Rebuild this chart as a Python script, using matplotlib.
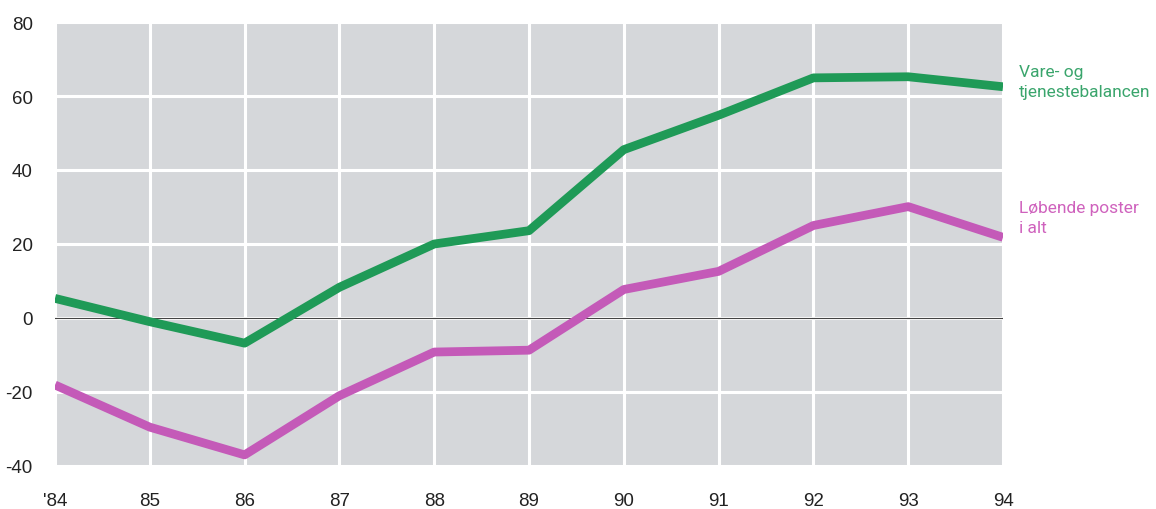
import matplotlib
matplotlib.use("Agg")
import matplotlib.pyplot as plt

plt.rcParams["axes.unicode_minus"] = False

# years on the x axis and the two balances (bn. kr.)
years = [84, 85, 86, 87, 88, 89, 90, 91, 92, 93, 94]
year_labels = ["'84", "85", "86", "87", "88", "89", "90", "91", "92", "93", "94"]
vare_tjeneste = [5.3, -1.0, -6.8, 8.3, 20.0, 23.6, 45.5, 54.8, 64.9, 65.2, 62.5]
lobende_poster = [-18.1, -29.5, -37.0, -21.0, -9.2, -8.7, 7.7, 12.6, 25.0, 30.1, 21.8]
y_ticks = [-40, -20, 0, 20, 40, 60, 80]

GREEN = "#1f9a57"
MAGENTA = "#c45ab8"

fig = plt.figure(figsize=(11.56, 5.10), dpi=100)
ax = fig.add_axes([55 / 1156, 1 - 467 / 510, (1003 - 55) / 1156, 444 / 510])
ax.set_facecolor("#d5d7da")

ax.set_xlim(84, 94)
ax.set_ylim(-40, 80)
ax.set_xticks(years)
ax.set_xticklabels(year_labels)
ax.set_yticks(y_ticks)
ax.grid(True, color="white", lw=2.2)
ax.set_axisbelow(True)
for sp in ax.spines.values():
    sp.set_visible(False)
ax.tick_params(length=0, labelsize=13.5, colors="#222222")
ax.tick_params(axis="x", pad=19)
ax.tick_params(axis="y", pad=16)
for lab in ax.get_yticklabels() + ax.get_xticklabels():
    lab.set_fontfamily("Liberation Sans")

ax.axhline(0, color="#444444", lw=0.8, zorder=2)
ax.plot(years, vare_tjeneste, color=GREEN, lw=6.3, solid_capstyle="butt", zorder=3)
ax.plot(years, lobende_poster, color=MAGENTA, lw=6.3, solid_capstyle="butt", zorder=3)

ax.text(1.017, 0.905, "Vare- og\ntjenestebalancen", transform=ax.transAxes,
        color="#3aa56c", fontsize=12.5, family="Roboto",
        va="top", ha="left", linespacing=1.4)
ax.text(1.017, 0.598, "Løbende poster\ni alt", transform=ax.transAxes,
        color="#cf62bd", fontsize=12.5, family="Roboto",
        va="top", ha="left", linespacing=1.4)

fig.savefig("out.png", dpi=100)
